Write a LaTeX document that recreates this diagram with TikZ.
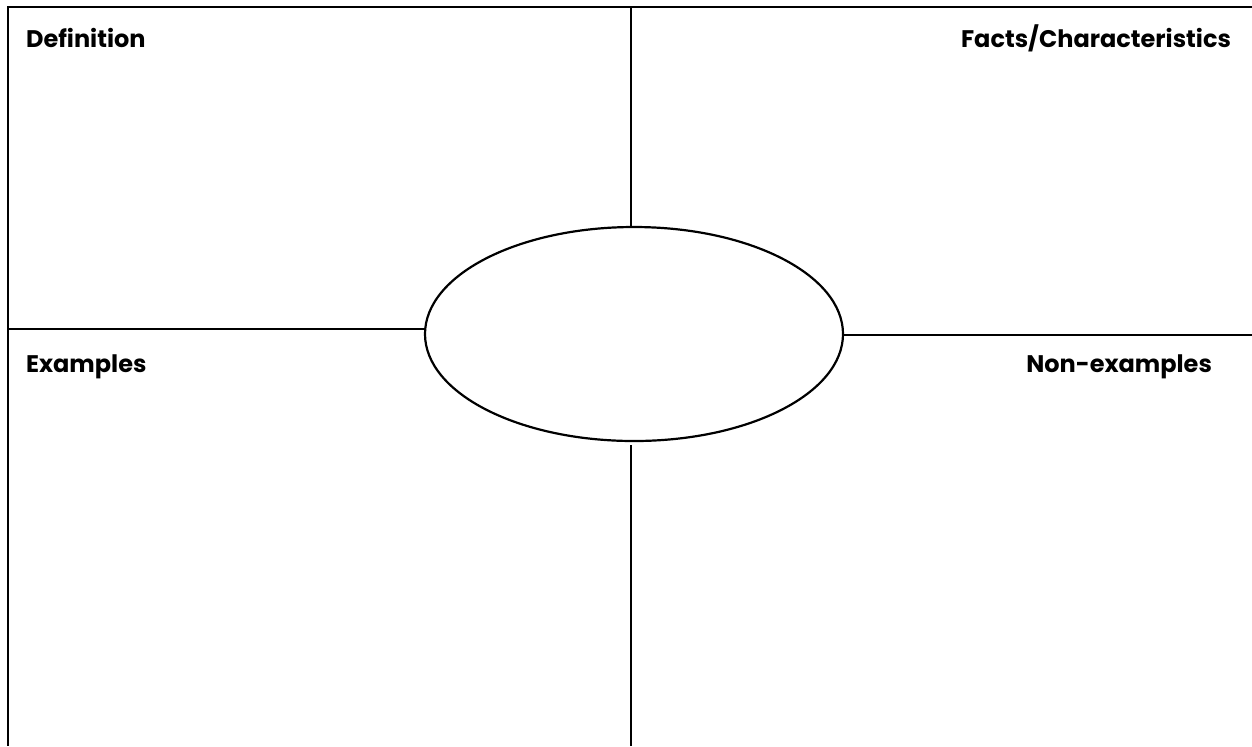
\documentclass[tikz,border=0pt]{standalone}
\usepackage{fontspec}
\setmainfont{Poppins}
\usetikzlibrary{shapes.geometric}

\begin{document}
\begin{tikzpicture}[x=0.5pt, y=-0.5pt, line width=1.1pt]
  \tikzset{label/.style={inner sep=0pt, font=\fontsize{12}{14}\selectfont\bfseries}}
  \useasboundingbox (0,0) rectangle (1252,746);
  % frame: top and left edges only
  \coordinate (tl) at (8,7);
  \coordinate (tr) at (1252,7);
  \coordinate (bl) at (8,746);
  \draw (tr) -- (tl) -- (bl);
  % centre oval
  \node[draw, ellipse, minimum width=209pt, minimum height=107pt, inner sep=0pt] (oval) at (634,334) {};
  % dividers
  \coordinate (vtop) at (631,7);
  \coordinate (vbot) at (631,746);
  \coordinate (hleft) at (8,329);
  \coordinate (hright) at (1252,335);
  \draw (vtop) -- (oval.north -| vtop);
  \draw (vbot) -- ([yshift=-1.5pt]oval.south -| vbot);
  \draw (hleft) -- (oval.west |- hleft);
  \draw (hright) -- (oval.east |- hright);
  % quadrant titles
  \node[label, anchor=west] (def) at (25,38) {Definition};
  \node[label, anchor=east] (facts) at (1232,38) {Facts/Characteristics};
  \node[label, anchor=west] (ex) at (25,367) {Examples};
  \node[label, anchor=east] (nonex) at (1213,367) {Non-examples};
\end{tikzpicture}
\end{document}
